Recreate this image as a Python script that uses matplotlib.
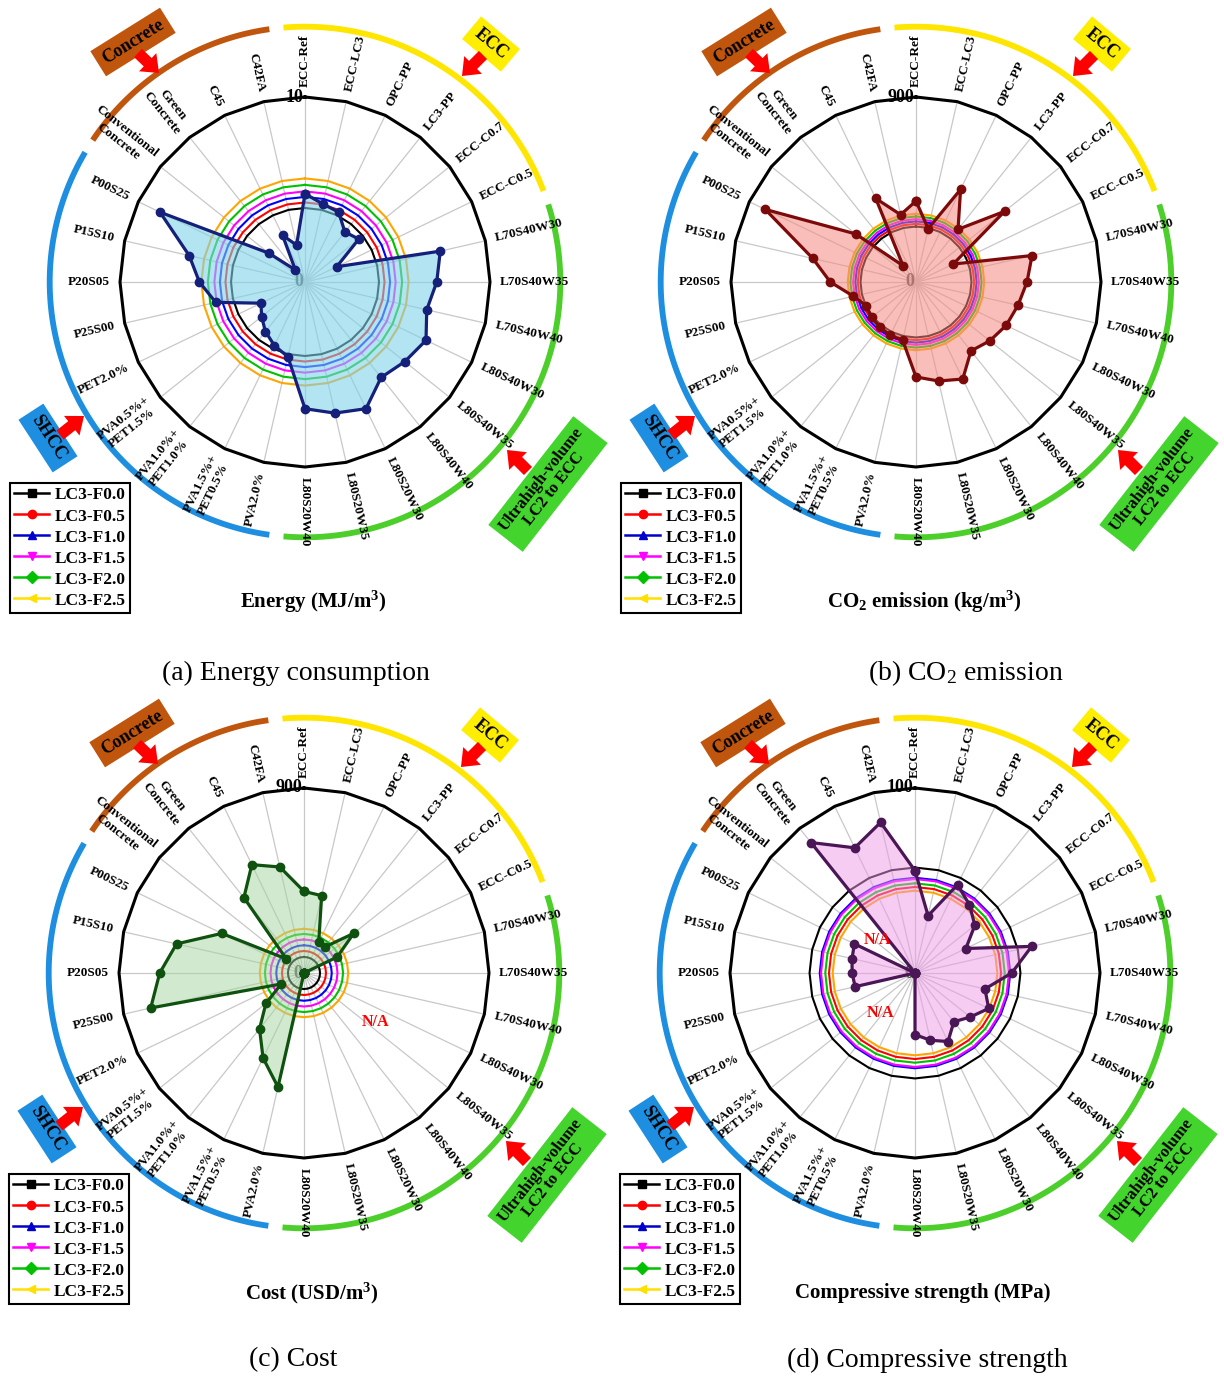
import numpy as np
import matplotlib.pyplot as plt
from matplotlib.lines import Line2D

plt.rcParams['font.family'] = 'Liberation Serif'
plt.rcParams['mathtext.default'] = 'regular'

# Categories, clockwise from the top
categories = ['ECC-Ref', 'ECC-LC3', 'OPC-PP', 'LC3-PP', 'ECC-C0.7', 'ECC-C0.5',
              'L70S40W30', 'L70S40W35', 'L70S40W40', 'L80S40W30', 'L80S40W35',
              'L80S40W40', 'L80S20W30', 'L80S20W35', 'L80S20W40', 'PVA2.0%',
              'PVA1.5%+\nPET0.5%', 'PVA1.0%+\nPET1.0%', 'PVA0.5%+\nPET1.5%',
              'PET2.0%', 'P25S00', 'P20S05', 'P15S10', 'P00S25',
              'Conventional\nConcrete', 'Green\nConcrete', 'C45', 'C42FA']

nan = np.nan
energy = [4.77, 4.33, 4.19, 3.46, 3.72, 1.9, 7.5, 7.12, 6.75, 7.26, 6.9, 6.6, 7.6, 7.27,
          6.85, 4.15, 3.81, 3.43, 3.0, 2.64, 4.95, 5.71, 6.42, 8.7, 2.5, 0.83, 2.8, 2.05]
co2 = [394, 266, 500, 328, 551, 201, 579, 540, 509, 487, 459, 429, 524, 494,
       462, 291, 288, 281, 276, 268, 312, 417, 515, 814, 375, 101, 451, 336]
cost = [397, 386, 165, 162, 309, 179, nan, nan, nan, nan, nan, nan, nan, nan,
        nan, 569, 459, 347, 237, 123, 765, 702, 636, 444, 110, 469, 585, 529]
strength = [55.3, 31.8, 53, 47.2, 41.4, 30.5, 64.7, 52.3, 38.8, 44.2, 38.2, 33.7, 41.1, 37.3,
            33.3, nan, nan, nan, nan, nan, 33.2, 34, 34.9, 36.4, nan, 90.2, 75.1, 83.5]

# LC3 reference mixes (drawn as rings)
lc3_labels = ['LC3-F0.0', 'LC3-F0.5', 'LC3-F1.0', 'LC3-F1.5', 'LC3-F2.0', 'LC3-F2.5']
ring_energy = [4.0, 4.3, 4.6, 4.9, 5.25, 5.6]
ring_co2 = [270, 283, 295, 306, 319, 332]
ring_cost = [78, 107, 135, 163, 190, 215]
ring_strength = [57, 46.5, 51.5, 50.8, 48.5, 44.5]

# groups of categories (first index, last index)
group_names = ['ECC', 'Ultrahigh-volume\nLC2 to ECC', 'SHCC', 'Concrete']
group_first = [0, 6, 15, 24]
group_last = [5, 14, 23, 27]

ring_colors = ['black', 'red', 'blue', 'magenta', '#00c000', 'orange']
leg_colors = ['black', 'red', '#0000cc', 'magenta', '#00c000', '#ffe000']
leg_markers = ['s', 'o', '^', 'v', 'D', '<']
group_colors = ['#ffe600', '#4ccf2a', '#1e8ee0', '#c0560e']
box_colors = ['#ffee00', '#44d42e', '#1e8ee0', '#c0560e']

n = len(categories)
theta = np.arange(n) * 2 * np.pi / n
step = 2 * np.pi / n

W, H = 1224, 1379
S = 600   # panel axes size in px
R = 185   # px radius of the outer polygon
fig = plt.figure(figsize=(W / 100, H / 100), dpi=100)


def frac(dx, dy):
    # pixel offset from the panel centre -> axes fraction
    return (0.5 + dx / S, 0.5 - dy / S)


def draw_panel(cx, cy, values, rings, vmax, top_label, line_c, fill_c, fill_a, xlabel, na_spots):
    ax = fig.add_axes([(cx - S / 2) / W, (H - cy - S / 2) / H, S / W, S / H], projection='polar')
    ax.set_theta_zero_location('N')
    ax.set_theta_direction(-1)
    ax.set_ylim(0, vmax * (S / 2) / R)
    ax.set_xticks([])
    ax.set_yticks([])
    ax.grid(False)
    ax.spines['polar'].set_visible(False)
    ax.patch.set_alpha(0)

    tc = np.append(theta, theta[0])
    ax.vlines(theta, 0, vmax, color='#c8c8c8', lw=0.9, zorder=1)
    ax.plot(tc, np.full(n + 1, vmax), color='black', lw=2.2, zorder=2)
    for r, c in zip(rings, ring_colors):
        ax.plot(tc, np.full(n + 1, r), color=c, lw=1.5, zorder=2)

    ax.annotate('0', (0, 0), xytext=(-1, 0), textcoords='offset points', ha='right',
                va='center', fontsize=13, fontweight='bold', color='#555555', zorder=2)
    ax.annotate(top_label, (0, vmax), xytext=(-1, 0), textcoords='offset points', ha='right',
                va='center', fontsize=13, fontweight='bold', zorder=5)

    # N/A values go to the centre
    v = np.nan_to_num(np.array(values, dtype=float))
    vc = np.append(v, v[0])
    ax.fill(tc, vc, color=fill_c, alpha=fill_a, lw=0, zorder=3)
    ax.plot(tc, vc, color=line_c, lw=2.3, marker='o', ms=6, mfc=line_c, mec=line_c, zorder=4)

    # category labels
    for i, lab in enumerate(categories):
        ang = 90 - i * 360 / n
        if ang < -90:
            rot, ha = ang + 180, 'right'
        else:
            rot, ha = ang, 'left'
        ax.text(theta[i], vmax * 1.055, lab, rotation=rot, rotation_mode='anchor', ha=ha,
                va='center', multialignment='center', fontsize=9.5, fontweight='bold', zorder=5)

    # group arcs
    gap = np.deg2rad(1.6)
    for i0, i1, c in zip(group_first, group_last, group_colors):
        t = np.linspace((i0 - 0.5) * step + gap, (i1 + 0.5) * step - gap, 100)
        ax.plot(t, np.full(100, vmax * 1.38), color=c, lw=4.2, solid_capstyle='butt', clip_on=False)

    # group boxes and red arrows
    box_pos = [(186, -238, -40, 13), (243, 202, 52, 12), (-257, 156, -57, 13), (-172, -240, 32, 13)]
    arrows = [((178, -227), (157, -206)), ((223, 189), (202, 168)),
              ((-245, 153), (-221, 134)), ((-167, -229), (-146, -209))]
    for name, c, (dx, dy, rot, fs), (tail, tip) in zip(group_names, box_colors, box_pos, arrows):
        ax.text(*frac(dx, dy), name, transform=ax.transAxes, rotation=rot, ha='center', va='center',
                fontsize=fs, fontweight='bold', multialignment='center', linespacing=1.0,
                bbox=dict(boxstyle='square,pad=0.35', fc=c, ec='none'))
        ax.annotate('', xy=frac(*tip), xytext=frac(*tail), xycoords='axes fraction',
                    textcoords='axes fraction',
                    arrowprops=dict(arrowstyle='simple,head_length=0.75,head_width=1.2,tail_width=0.55',
                                    fc='red', ec='none', mutation_scale=15, shrinkA=0, shrinkB=0))

    for dx, dy in na_spots:
        ax.text(*frac(dx, dy), 'N/A', transform=ax.transAxes, ha='center', va='center',
                fontsize=11.5, fontweight='bold', color='red', zorder=6)

    handles = [Line2D([], [], color=c, marker=m, ms=6, lw=1.8) for c, m in zip(leg_colors, leg_markers)]
    ax.legend(handles, lc3_labels, loc='upper left', bbox_to_anchor=frac(-295, 201),
              fancybox=False, edgecolor='black', framealpha=1,
              prop={'family': 'Liberation Serif', 'weight': 'bold', 'size': 12.5},
              handlelength=2.0, handletextpad=0.3, labelspacing=0.28, borderpad=0.25,
              borderaxespad=0).get_frame().set_linewidth(1.5)

    ax.text(*frac(8, 320), xlabel, transform=ax.transAxes, ha='center', va='center',
            fontsize=15, fontweight='bold')
    return ax


draw_panel(305, 282, energy, ring_energy, 10, '10', '#14207a', '#7fd3e8', 0.6,
           'Energy (MJ/m$^3$)', [])
draw_panel(916, 282, co2, ring_co2, 900, '900', '#7d0a0a', '#f58a80', 0.55,
           'CO$_2$ emission (kg/m$^3$)', [])
draw_panel(304, 973, cost, ring_cost, 900, '900', '#0f520f', '#a5d6a0', 0.5,
           'Cost (USD/m$^3$)', [(71, 49)])
draw_panel(915, 973, strength, ring_strength, 100, '100', '#4a1655', '#ee9be6', 0.5,
           'Compressive strength (MPa)', [(-38, -33), (-35, 40)])

captions = ['(a) Energy consumption', '(b) CO$_2$ emission', '(c) Cost', '(d) Compressive strength']
cap_xy = [(296, 673), (966, 673), (293, 1360), (927, 1360)]
for txt, (x, y) in zip(captions, cap_xy):
    fig.text(x / W, 1 - y / H, txt, ha='center', va='center', fontsize=20)

fig.savefig('out.png', dpi=100)
